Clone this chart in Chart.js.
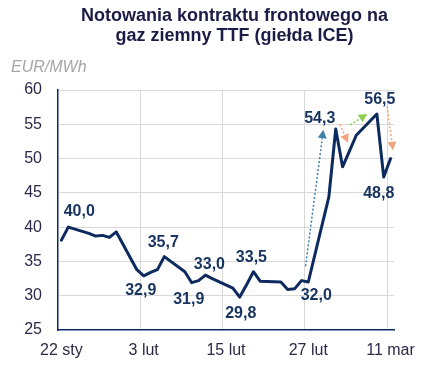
<!DOCTYPE html>
<html><head><meta charset="utf-8">
<script src="https://cdn.jsdelivr.net/npm/chart.js@4/dist/chart.umd.min.js"></script>
<style>html,body{margin:0;padding:0;background:#fff;}#wrap{width:439px;height:371px;position:relative;}</style>
</head><body><div id="wrap"><canvas id="c" width="439" height="371"></canvas></div>
<script>
// ---- data ----
const startDate = "2026-01-22";
const dates = ["2026-01-22","2026-01-23","2026-01-26","2026-01-27","2026-01-28","2026-01-29","2026-01-30",
  "2026-02-02","2026-02-03","2026-02-04","2026-02-05","2026-02-06",
  "2026-02-09","2026-02-10","2026-02-11","2026-02-12","2026-02-13",
  "2026-02-16","2026-02-17","2026-02-18","2026-02-19","2026-02-20",
  "2026-02-23","2026-02-24","2026-02-25","2026-02-26","2026-02-27",
  "2026-03-02","2026-03-03","2026-03-04","2026-03-05","2026-03-06",
  "2026-03-09","2026-03-10","2026-03-11"];
const prices = [38.1,40.0,39.1,38.7,38.8,38.5,39.3,
  33.8,32.9,33.4,33.8,35.7,
  33.5,31.9,32.2,33.0,32.5,
  31.1,29.8,31.6,33.5,32.1,
  32.0,30.9,31.0,32.2,32.0,
  44.4,54.3,48.8,51.1,53.4,
  56.5,47.3,50.0];
const tickDates = ["2026-01-22","2026-02-03","2026-02-15","2026-02-27","2026-03-11"];
const tickLabels = ["22 sty","3 lut","15 lut","27 lut","11 mar"];
const yTicks = [25,30,35,40,45,50,55,60];
const valueLabelDates = ["2026-01-23","2026-02-06","2026-02-03","2026-02-10","2026-02-12","2026-02-17","2026-02-19","2026-02-27","2026-03-03","2026-03-09","2026-03-10"];
const valueLabelTexts = ["40,0","35,7","32,9","31,9","33,0","29,8","33,5","32,0","54,3","56,5","48,8"];
const titleLines = ["Notowania kontraktu frontowego na","gaz ziemny TTF (giełda ICE)"];
const unitText = "EUR/MWh";

// ---- helpers ----
const DAY = 86400000;
const dayOf = d => Math.round((Date.parse(d) - Date.parse(startDate)) / DAY);
const points = dates.map((d, i) => ({x: dayOf(d) + 0.5, y: prices[i]}));
const tickDays = tickDates.map(dayOf);

const FONT = "'Liberation Sans', Arial, sans-serif";
const NAVY = '#0c2a5e';
const LABEL = '#17335f';
const TXT = '#2a2a48';

// label offsets (px) relative to their point
const labelOffsets = [[11,-16],[-1,-14],[-3,15],[-3,17],[4,-11],[1,17],[-2,-14],[8,14],[-16,-10],[3,-14],[-5,17]];
// arrows in data space: [xDay, value] -> [xDay, value]
const arrows = [
  {from:[36.1,34.3], to:[38.7,54.2], color:'#3f7fa6'},
  {from:[41.1,55.0], to:[42.3,52.3], color:'#f2a47e'},
  {from:[42.6,54.9], to:[45.1,56.5], color:'#8fcf4f'},
  {from:[48.0,57.6], to:[48.85,51.2], color:'#f2a47e'}
];

const decor = {
  id:'decor',
  afterDatasetsDraw(chart){
    const {ctx, scales:{x, y}} = chart;
    ctx.save();
    arrows.forEach(a => {
      const x1 = x.getPixelForValue(a.from[0]), y1 = y.getPixelForValue(a.from[1]);
      const x2 = x.getPixelForValue(a.to[0]), y2 = y.getPixelForValue(a.to[1]);
      const ang = Math.atan2(y2 - y1, x2 - x1);
      const hl = 8.5, hw = 4.5;
      const bx = x2 - hl*Math.cos(ang), by = y2 - hl*Math.sin(ang);
      ctx.strokeStyle = a.color; ctx.fillStyle = a.color;
      ctx.lineWidth = 1.5; ctx.setLineDash([2,2]);
      ctx.beginPath(); ctx.moveTo(x1,y1); ctx.lineTo(bx,by); ctx.stroke();
      ctx.setLineDash([]);
      ctx.beginPath();
      ctx.moveTo(x2,y2);
      ctx.lineTo(bx + hw*Math.sin(ang), by - hw*Math.cos(ang));
      ctx.lineTo(bx - hw*Math.sin(ang), by + hw*Math.cos(ang));
      ctx.closePath(); ctx.fill();
    });
    ctx.font = 'bold 16px ' + FONT;
    ctx.fillStyle = LABEL; ctx.textAlign = 'center'; ctx.textBaseline = 'middle';
    valueLabelDates.forEach((d, i) => {
      const idx = dates.indexOf(d);
      const px = x.getPixelForValue(points[idx].x), py = y.getPixelForValue(points[idx].y);
      ctx.fillText(valueLabelTexts[i], px + labelOffsets[i][0], py + labelOffsets[i][1]);
    });
    ctx.restore();
  },
  afterDraw(chart){
    const ctx = chart.ctx;
    ctx.save();
    ctx.font = 'bold 18px ' + FONT;
    ctx.fillStyle = '#1b1c46'; ctx.textAlign = 'center'; ctx.textBaseline = 'alphabetic';
    ctx.fillText(titleLines[0], 234.5, 21);
    ctx.fillText(titleLines[1], 234.5, 41);
    ctx.font = 'italic 16px ' + FONT;
    ctx.fillStyle = '#a6a6a6'; ctx.textAlign = 'left';
    ctx.fillText(unitText, 11, 71.5);
    ctx.restore();
  }
};

new Chart(document.getElementById('c'), {
  type:'line',
  data:{datasets:[{data:points, borderColor:NAVY, borderWidth:3, pointRadius:0, tension:0, borderJoinStyle:'round', borderCapStyle:'round', fill:false}]},
  options:{
    responsive:false, animation:false, devicePixelRatio:1,
    layout:{padding:{left:0, top:90, right:45, bottom:0}},
    plugins:{legend:{display:false}, tooltip:{enabled:false}, title:{display:false}},
    scales:{
      x:{type:'linear', min:0, max:49,
        afterBuildTicks: s => { s.ticks = tickDays.map(v => ({value:v})); },
        afterFit: s => { s.height = 41; },
        ticks:{callback:(v, i) => tickLabels[i], labelOffset:3.4, padding:11, autoSkip:false, maxRotation:0,
          font:{size:16, family:FONT}, color:TXT},
        grid:{drawTicks:false, lineWidth:1, color: c => (c.tick && c.tick.value === 0) ? 'rgba(0,0,0,0)' : '#d9d9d9'},
        border:{color:NAVY, width:1.5}
      },
      y:{min:25, max:60,
        afterBuildTicks: s => { s.ticks = yTicks.map(v => ({value:v})); },
        afterFit: s => { s.width = 58; },
        ticks:{callback: v => String(v), padding:16, font:{size:16, family:FONT}, color:TXT},
        grid:{drawTicks:false, lineWidth:1, color: c => (c.tick && c.tick.value === 25) ? 'rgba(0,0,0,0)' : '#d9d9d9'},
        border:{color:NAVY, width:1.5}
      }
    }
  },
  plugins:[decor]
});
</script></body></html>
